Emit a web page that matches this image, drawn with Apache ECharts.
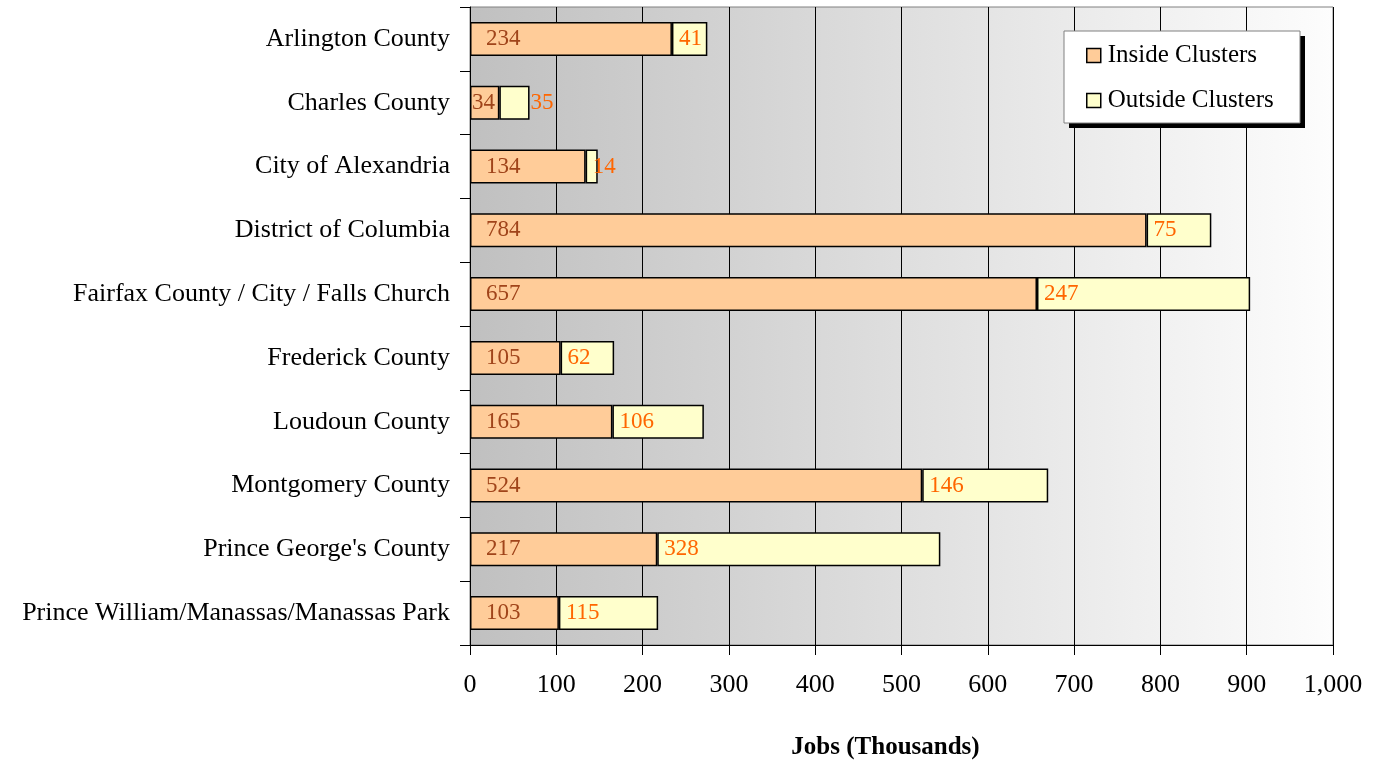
<!DOCTYPE html>
<html><head><meta charset="utf-8">
<script src="https://cdn.jsdelivr.net/npm/echarts@6/dist/echarts.min.js"></script>
<style>html,body{margin:0;padding:0;background:#fff}#c{width:1386px;height:766px}</style>
</head><body><div id="c"></div>
<script>
const categories = ["Arlington County","Charles County","City of Alexandria","District of Columbia","Fairfax County / City / Falls Church","Frederick County","Loudoun County","Montgomery County","Prince George's County","Prince William/Manassas/Manassas Park"];
const insideClusters = [234,34,134,784,657,105,165,524,217,103];
const outsideClusters = [41,35,14,75,247,62,106,146,328,115];
const seriesNames = ["Inside Clusters","Outside Clusters"];
const xAxisName = "Jobs (Thousands)";

const font = "'Liberation Serif','Times New Roman',serif";
const chart = echarts.init(document.getElementById('c'));

const insideData = insideClusters.map(v => v < 50
  ? {value:v,label:{distance:2}} : v);
const outsideData = outsideClusters.map((v,i) => insideClusters[i] < 50
  ? {value:v,label:{position:'right',distance:1}} : v);

chart.setOption({
  animation:false,
  textStyle:{fontFamily:font},
  grid:{left:470,right:53,top:7,bottom:121,show:true,borderColor:'#808080',borderWidth:1,
    backgroundColor:new echarts.graphic.LinearGradient(0,0,1,0,[{offset:0,color:'#c0c0c0'},{offset:1,color:'#fdfdfd'}])},
  graphic:[
    {type:'rect',shape:{x:1069,y:36,width:236,height:92},style:{fill:'#000'},z:10},
    {type:'rect',shape:{x:1064,y:31,width:236,height:92},style:{fill:'#fff',stroke:'#808080',lineWidth:1},z:11}
  ],
  legend:{orient:'vertical',left:1086,top:43,padding:[0,0,0,0],itemGap:20,z:20,
    itemWidth:14,itemHeight:14,icon:'rect',
    itemStyle:{borderColor:'#000',borderWidth:1.5},
    textStyle:{fontFamily:font,fontSize:25,color:'#000',padding:[0,0,0,2]},
    data:seriesNames},
  xAxis:{type:'value',min:0,max:1000,interval:100,
    axisLine:{show:true,lineStyle:{color:'#000'}},
    axisTick:{show:true,length:10,lineStyle:{color:'#000'}},
    splitLine:{show:true,lineStyle:{color:'#000',width:1}},
    axisLabel:{fontFamily:font,fontSize:26,color:'#000',margin:27,
      formatter:v=>v.toLocaleString('en-US')},
    name:xAxisName,nameLocation:'middle',nameGap:90,
    nameTextStyle:{fontFamily:font,fontSize:25,fontWeight:'bold',color:'#000',padding:[0,32,0,0]}},
  yAxis:{type:'category',data:categories,inverse:true,
    axisLine:{show:true,lineStyle:{color:'#000'}},
    axisTick:{show:true,length:10,inside:false,lineStyle:{color:'#000'}},
    axisLabel:{fontFamily:font,fontSize:26,color:'#000',margin:20,padding:[5,0,0,0]}},
  series:[
    {name:seriesNames[0],type:'bar',stack:'s',data:insideData,barWidth:34,
      itemStyle:{color:'#FFCC99',borderColor:'#000',borderWidth:1.5},
      label:{show:true,position:'insideLeft',distance:16,fontFamily:font,fontSize:23,color:'#A0441A'}},
    {name:seriesNames[1],type:'bar',stack:'s',data:outsideData,barWidth:34,
      itemStyle:{color:'#FFFFCC',borderColor:'#000',borderWidth:1.5},
      label:{show:true,position:'insideLeft',distance:7,fontFamily:font,fontSize:23,color:'#FF6600'}}
  ]
});
</script></body></html>
